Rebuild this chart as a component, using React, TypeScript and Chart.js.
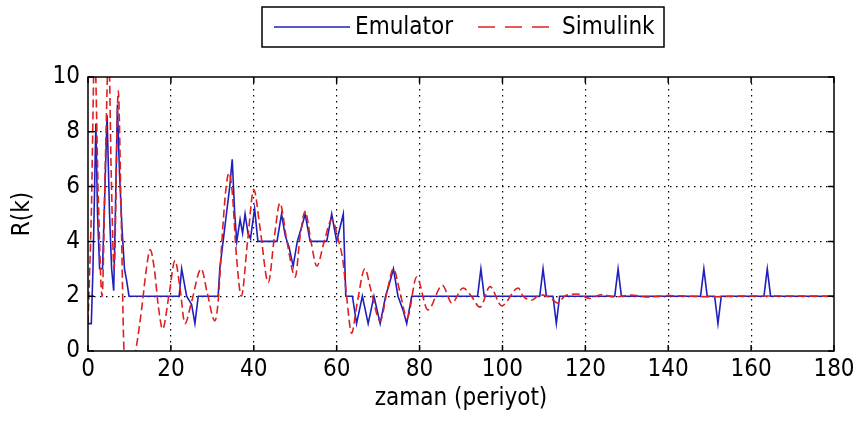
import React, { useEffect, useRef } from 'react';
import { Chart, registerables } from 'chart.js';

Chart.register(...registerables);

// ---- data ----
const seriesNames = ['Emulator', 'Simulink'];
const xTickValues = [0, 20, 40, 60, 80, 100, 120, 140, 160, 180];
const yTickValues = [0, 2, 4, 6, 8, 10];
const xTitle = 'zaman (periyot)';
const yTitle = 'R(k)';

const emulatorT = [
  0, 0.8, 1.2, 1.9, 2.3, 2.8, 3.5, 4.0, 4.6, 5.2, 5.7, 6.2, 6.6, 7.1, 7.6, 8.2, 8.8, 9.3, 9.9,
  22.0, 22.6, 23.8, 25.0, 25.8, 26.6, 31.4, 31.8, 32.6, 33.4, 34.2, 34.8, 35.4, 35.9, 36.7, 37.3,
  37.9, 38.6, 39.2, 40.2, 41.0, 45.6, 46.7, 47.6, 48.5, 49.5, 50.5, 51.5, 52.4, 53.6, 57.6, 58.8,
  60.0, 60.8, 61.6, 62.2, 63.8, 64.8, 66.2, 67.6, 69.0, 70.5, 71.8, 72.8, 73.7, 74.8, 76.0, 76.9,
  78.1, 94.0, 94.8, 95.6, 109.0, 109.8, 110.6, 112.2, 113.0, 113.8, 127.1, 127.9, 128.7, 147.8,
  148.6, 149.4, 151.2, 152.0, 152.8, 163.1, 163.9, 164.7, 180,
];
const emulatorR = [
  1.0, 1.0, 3.0, 8.3, 5.0, 3.0, 3.0, 5.5, 8.6, 5.0, 3.0, 2.2, 5.0, 9.0, 6.5, 4.5, 3.0, 2.6, 2.0,
  2, 3, 2, 1.7, 1, 2, 2, 3, 4, 5, 6, 7, 5, 4, 4.8, 4.3,
  5, 4.3, 4.1, 5.2, 4, 4, 5, 4.2, 3.8, 3.1, 4, 4.5, 5, 4, 4, 5,
  4, 4.5, 5, 2, 2, 1, 2, 1, 2, 1, 2, 2.5, 3, 2, 1.5, 1,
  2, 2, 3, 2, 2, 3, 2, 2, 1, 2, 2, 3, 2, 2,
  3, 2, 2, 1, 2, 2, 3, 2, 2,
];

const simulinkT = [
  0, 0.8, 1.6, 2.5, 3.4, 4.2, 5.0, 5.6, 6.3, 7.3, 8.0, 8.7, 10.0, 11.5, 13.0, 14.0, 15.0, 16.0,
  17.0, 18.0, 19.5, 21.0, 22.2, 23.4, 25.0, 27.3, 28.8, 30.6, 31.4, 32.3, 33.2, 34.0, 34.8, 35.8,
  37.0, 38.5, 40.0, 41.5, 43.5, 45.0, 46.3, 48.0, 50.0, 51.2, 52.4, 53.8, 55.2, 57.0, 58.8, 60.5,
  61.5, 62.4, 63.6, 65.0, 66.8, 68.3, 70.5, 72.2, 73.7, 75.2, 77.0, 79.3, 82.0, 85.5, 87.8, 90.5,
  92.5, 94.6, 97.0, 99.8, 103.8, 105.0, 107.0, 109.0, 111.5, 113.3, 115.0, 118.0, 121.0, 124.0,
  127.0, 131.0, 135.0, 140.0, 150.0, 160.0, 180.0,
];
const simulinkR = [
  1.0, 5, 11, 5.5, 2, 7, 11, 6.5, 3.0, 9.5, 5, 0, -1, 0, 1.6, 2.9, 3.7, 3.0,
  1.6, 0.8, 2.0, 3.3, 2.3, 1.0, 1.8, 3.0, 2.1, 1.1, 1.8, 4.0, 5.8, 6.5, 5.8, 3.5,
  2.0, 4.0, 5.9, 4.5, 2.5, 4.2, 5.4, 4.0, 2.7, 4.2, 5.1, 4.0, 3.1, 4.0, 4.8, 4.0,
  3.3, 2.0, 0.65, 1.8, 3.0, 2.2, 1.1, 2.2, 3.0, 2.2, 1.2, 2.7, 1.5, 2.4, 1.75, 2.3,
  2.0, 1.6, 2.35, 1.65, 2.3, 2.0, 1.85, 2.05, 1.95, 1.75, 2.0, 2.08, 1.92, 2.06,
  1.97, 2.04, 1.97, 2.02, 1.98, 2.01, 2.0,
];

// ---- styles ----
const FONT = "'Liberation Sans Narrow', 'DejaVu Sans Condensed', 'Liberation Sans', Arial, sans-serif";
const BLUE = '#1f1fbe';
const RED = '#de2020';

const framePlugin = {
  id: 'frame',
  afterDatasetsDraw(chart: any) {
    const { ctx, chartArea: a, scales } = chart;
    const x = scales.x;
    const y = scales.y;
    ctx.save();
    ctx.strokeStyle = '#000';
    ctx.lineWidth = 1.5;
    ctx.strokeRect(a.left, a.top, a.right - a.left, a.bottom - a.top);
    const L = 6;
    ctx.beginPath();
    x.ticks.forEach((t: any) => {
      const px = x.getPixelForValue(t.value);
      ctx.moveTo(px, a.bottom);
      ctx.lineTo(px, a.bottom - L);
      ctx.moveTo(px, a.top);
      ctx.lineTo(px, a.top + L);
    });
    y.ticks.forEach((t: any) => {
      const py = y.getPixelForValue(t.value);
      ctx.moveTo(a.left, py);
      ctx.lineTo(a.left + L, py);
      ctx.moveTo(a.right, py);
      ctx.lineTo(a.right - L, py);
    });
    ctx.stroke();
    ctx.restore();
  },
};

const legendPlugin = {
  id: 'boxLegend',
  afterDraw(chart: any) {
    const { ctx } = chart;
    const ds = chart.data.datasets;
    const boxL = 262, boxT = 7, boxW = 402, boxH = 40;
    const cy = boxT + boxH / 2;
    ctx.save();
    ctx.fillStyle = '#fff';
    ctx.fillRect(boxL, boxT, boxW, boxH);
    ctx.strokeStyle = '#000';
    ctx.lineWidth = 1.5;
    ctx.strokeRect(boxL, boxT, boxW, boxH);
    const items = [
      { x0: 274, x1: 350, tx: 355 },
      { x0: 478, x1: 555, tx: 562 },
    ];
    items.forEach((it, i) => {
      const d = ds[i];
      ctx.strokeStyle = d.borderColor;
      ctx.lineWidth = 1.5;
      ctx.setLineDash(i === 1 ? [17, 10] : []);
      ctx.beginPath();
      ctx.moveTo(it.x0, cy);
      ctx.lineTo(it.x1, cy);
      ctx.stroke();
      ctx.setLineDash([]);
      ctx.fillStyle = '#000';
      ctx.font = `24px ${FONT}`;
      ctx.textBaseline = 'middle';
      ctx.textAlign = 'left';
      ctx.fillText(d.label, it.tx, cy + 1);
    });
    ctx.restore();
  },
};

export default function App() {
  const ref = useRef<HTMLCanvasElement | null>(null);
  useEffect(() => {
    document.body.style.margin = '0';
    const canvas = ref.current;
    if (!canvas) return;
    const chart = new Chart(canvas, {
      type: 'line',
      data: {
        datasets: [
          {
            label: seriesNames[0],
            data: emulatorT.map((t, i) => ({ x: t, y: emulatorR[i] })),
            borderColor: BLUE,
            borderWidth: 1.6,
            pointRadius: 0,
            tension: 0,
            order: 1,
          },
          {
            label: seriesNames[1],
            data: simulinkT.map((t, i) => ({ x: t, y: simulinkR[i] })),
            borderColor: RED,
            borderWidth: 1.6,
            borderDash: [8, 4],
            pointRadius: 0,
            cubicInterpolationMode: 'monotone',
            order: 0,
          },
        ],
      },
      options: {
        animation: false,
        responsive: true,
        maintainAspectRatio: false,
        layout: { padding: { top: 77, right: 26, left: 0, bottom: 0 } },
        plugins: { legend: { display: false }, tooltip: { enabled: false } },
        scales: {
          x: {
            type: 'linear',
            min: 0,
            max: 180,
            afterBuildTicks: (s: any) => {
              s.ticks = xTickValues.map((v) => ({ value: v }));
            },
            afterFit: (s: any) => {
              s.height = 76;
            },
            ticks: { color: '#000', font: { family: FONT, size: 24 }, padding: 4, maxRotation: 0 },
            grid: {
              color: (c: any) => (c.tick && (c.tick.value === 0 || c.tick.value === 180) ? 'transparent' : '#000'),
              lineWidth: 1.2,
              drawTicks: false,
            },
            border: { display: false, dash: [1.5, 4.5] },
            title: {
              display: true,
              text: xTitle,
              color: '#000',
              font: { family: FONT, size: 24 },
              padding: { top: 0, bottom: 14 },
            },
          },
          y: {
            type: 'linear',
            min: 0,
            max: 10,
            afterBuildTicks: (s: any) => {
              s.ticks = yTickValues.map((v) => ({ value: v }));
            },
            afterFit: (s: any) => {
              s.width = 88;
            },
            ticks: { color: '#000', font: { family: FONT, size: 24 }, padding: 8 },
            grid: {
              color: (c: any) => (c.tick && (c.tick.value === 0 || c.tick.value === 10) ? 'transparent' : '#000'),
              lineWidth: 1.2,
              drawTicks: false,
            },
            border: { display: false, dash: [1.5, 4.5] },
            title: {
              display: true,
              text: yTitle,
              color: '#000',
              font: { family: FONT, size: 24 },
              padding: { top: 8, bottom: 0 },
            },
          },
        },
      },
      plugins: [framePlugin, legendPlugin],
    } as any);
    return () => chart.destroy();
  }, []);
  return (
    <div style={{ position: 'fixed', left: 0, top: 0, width: 860, height: 427, background: '#fff' }}>
      <canvas ref={ref} />
    </div>
  );
}
